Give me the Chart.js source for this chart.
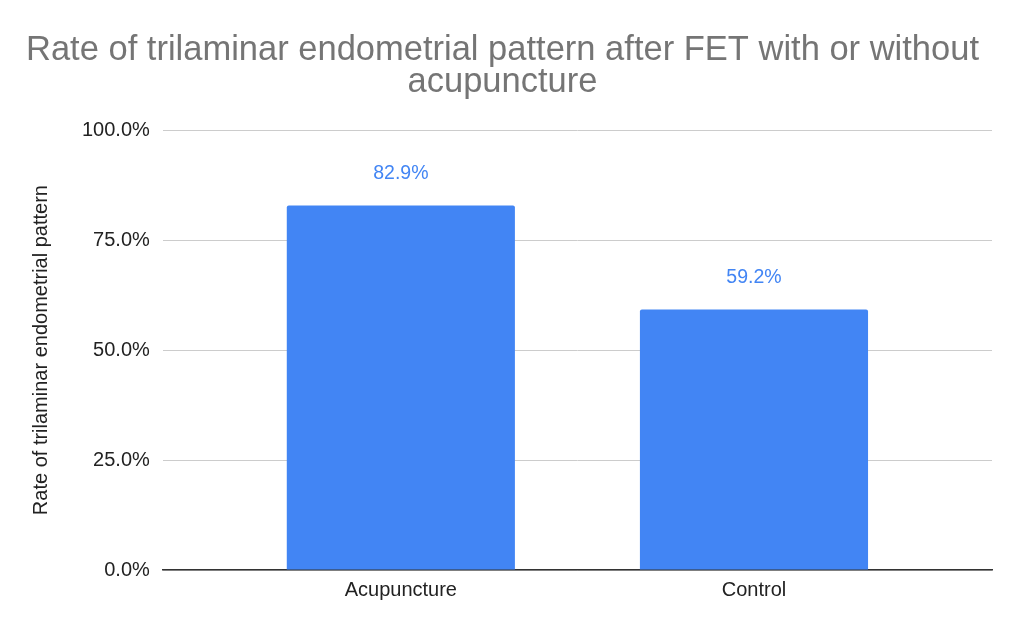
<!DOCTYPE html>
<html>
<head>
<meta charset="utf-8">
<script src="https://cdn.jsdelivr.net/npm/chart.js@4"></script>
<style>
  body { margin: 0; background: #fff; }
  #wrap { width: 1024px; height: 633px; }
</style>
</head>
<body>
<div id="wrap"><canvas id="chart"></canvas></div>
<script>
// Chart data
const categories = ['Acupuncture', 'Control'];
const rates = [82.9, 59.2];
const yTicks = [0, 25, 50, 75, 100];

const titleLines = ['Rate of trilaminar endometrial pattern after FET with or without', 'acupuncture'];
const yTitle = 'Rate of trilaminar endometrial pattern';

const blue = '#4285F4';
const fontFamily = '"Liberation Sans", Arial, sans-serif';

// Value labels above each bar
const barLabels = {
    id: 'barLabels',
    afterDatasetsDraw(chart) {
        const ctx = chart.ctx;
        const meta = chart.getDatasetMeta(0);
        ctx.save();
        ctx.font = '19.5px ' + fontFamily;
        ctx.fillStyle = blue;
        ctx.textAlign = 'center';
        ctx.textBaseline = 'middle';
        meta.data.forEach((bar, i) => {
            ctx.fillText(rates[i].toFixed(1) + '%', bar.x, bar.y - 32);
        });
        ctx.restore();
    }
};

new Chart(document.getElementById('chart'), {
    type: 'bar',
    data: {
        datasets: [{
            data: rates.map((v, i) => ({ x: i, y: v })),
            backgroundColor: blue,
            borderRadius: { topLeft: 2, topRight: 2 },
            borderSkipped: 'bottom',
            barPercentage: 0.646,
            categoryPercentage: 1.0
        }]
    },
    options: {
        responsive: true,
        maintainAspectRatio: false,
        animation: false,
        layout: {
            padding: { left: 13, right: 32, top: 34, bottom: 23 }
        },
        plugins: {
            legend: { display: false },
            tooltip: { enabled: false },
            title: {
                display: true,
                text: titleLines,
                color: '#757575',
                font: { family: fontFamily, size: 34.5, weight: 'normal', lineHeight: 0.93 },
                padding: { top: 0, bottom: 32 }
            }
        },
        scales: {
            x: {
                type: 'linear',
                offset: false,
                min: -0.674,
                max: 1.674,
                afterBuildTicks(axis) {
                    axis.ticks = categories.map((c, i) => ({ value: i }));
                },
                grid: { display: false, drawTicks: false, offset: false },
                border: { color: '#333333', width: 1.5 },
                ticks: {
                    color: '#222222',
                    font: { family: fontFamily, size: 20 },
                    padding: 8,
                    callback: v => categories[v]
                }
            },
            y: {
                min: 0,
                max: 100,
                afterBuildTicks(axis) {
                    axis.ticks = yTicks.map(v => ({ value: v }));
                },
                grid: { color: '#cccccc', drawTicks: false, lineWidth: 1 },
                border: { display: false },
                ticks: {
                    color: '#222222',
                    font: { family: fontFamily, size: 20 },
                    padding: 13,
                    callback: v => v.toFixed(1) + '%'
                },
                title: {
                    display: true,
                    text: yTitle,
                    color: '#222222',
                    font: { family: fontFamily, size: 20 },
                    padding: { top: 16, bottom: 16 }
                }
            }
        }
    },
    plugins: [barLabels]
});
</script>
</body>
</html>
